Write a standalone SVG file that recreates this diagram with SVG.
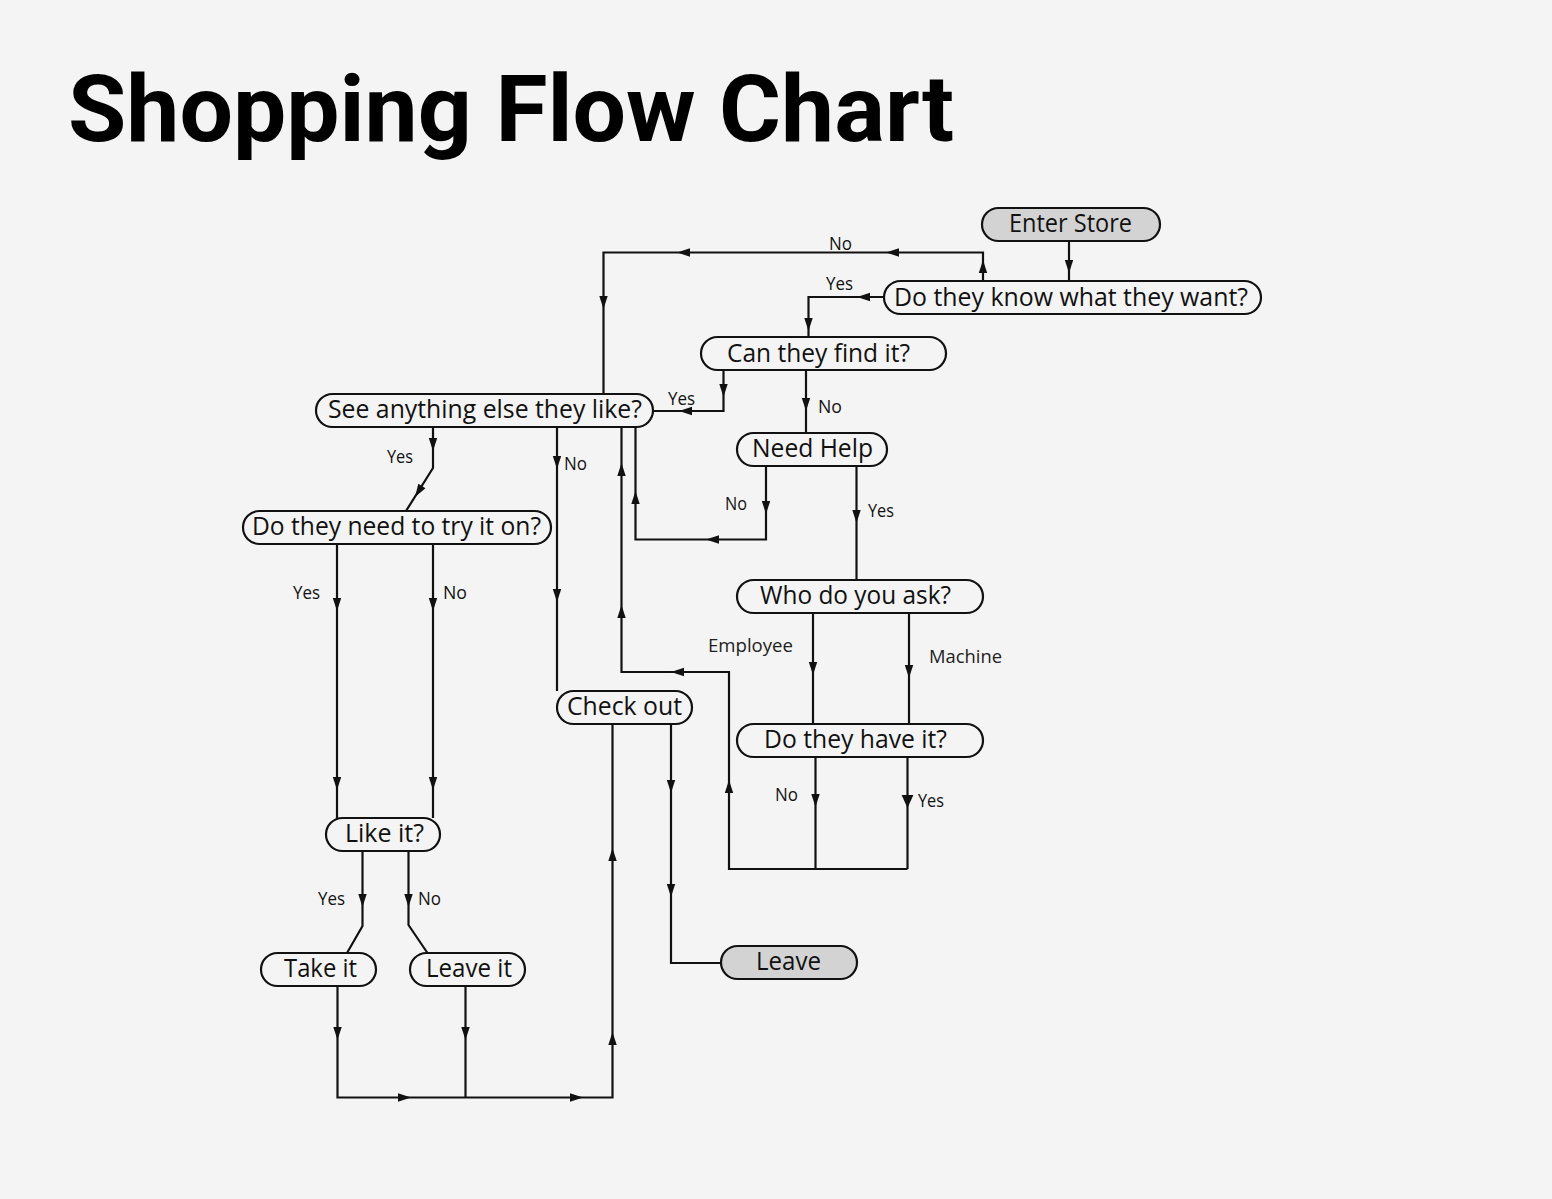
<svg xmlns="http://www.w3.org/2000/svg" xmlns:xlink="http://www.w3.org/1999/xlink" width="1552" height="1199" viewBox="0 0 1552 1199">
<style>
.node rect{fill:#f4f4f4;stroke:#111;stroke-width:2.2}
.node.term rect{fill:#d3d3d3}
.node text{font-family:"Open Sans","Noto Sans",sans-serif;font-size:25px;fill:#111}
.lbl{font-family:"Open Sans","Noto Sans",sans-serif;font-size:19px;fill:#111}
.lbl2{font-family:"Open Sans","Noto Sans",sans-serif;font-size:18px;fill:#222}
#connectors path{fill:none;stroke:#111;stroke-width:2.2}
#connectors use{fill:#111}
.title{font-family:Roboto,"Liberation Sans",sans-serif;font-weight:700;font-size:92px;fill:#000}
</style>
<defs>
<path id="ah" d="M0,0 L-4.2,-13 L4.2,-13 Z"/>
</defs>
<rect x="0" y="0" width="1552" height="1199" fill="#f4f4f4"/>
<text class="title" x="68" y="141" textLength="886" lengthAdjust="spacingAndGlyphs">Shopping Flow Chart</text>

<g id="connectors">
<!-- Enter -> Know -->
<path d="M1069,241 V281"/>
<use xlink:href="#ah" transform="translate(1069,273)"/>
<!-- Know No -> See anything -->
<path d="M983,281 V252.5 H603.5 V394"/>
<use xlink:href="#ah" transform="translate(983,260) rotate(180)"/>
<use xlink:href="#ah" transform="translate(886,252.5) rotate(90)"/>
<use xlink:href="#ah" transform="translate(677,252.5) rotate(90)"/>
<use xlink:href="#ah" transform="translate(603.5,309)"/>
<!-- Know Yes -> Can find -->
<path d="M884,297 H808.5 V337"/>
<use xlink:href="#ah" transform="translate(857,297) rotate(90)"/>
<use xlink:href="#ah" transform="translate(808.5,331)"/>
<!-- Can find Yes -> See anything -->
<path d="M723.5,370 V411 H653"/>
<use xlink:href="#ah" transform="translate(723.5,397)"/>
<use xlink:href="#ah" transform="translate(679,411) rotate(90)"/>
<!-- Can find No -> Need Help -->
<path d="M806,370 V433"/>
<use xlink:href="#ah" transform="translate(806,411)"/>
<!-- See Yes -> Try on -->
<path d="M433,427 V468 L406,511"/>
<use xlink:href="#ah" transform="translate(433,451)"/>
<use xlink:href="#ah" transform="translate(415,497) rotate(32)"/>
<!-- See No -> Check out -->
<path d="M557,427 V691"/>
<use xlink:href="#ah" transform="translate(557,469)"/>
<use xlink:href="#ah" transform="translate(557,602)"/>
<!-- Need Help No -> See anything -->
<path d="M766,466 V539.5 H635.5 V427"/>
<use xlink:href="#ah" transform="translate(766,514)"/>
<use xlink:href="#ah" transform="translate(706,539.5) rotate(90)"/>
<use xlink:href="#ah" transform="translate(635.5,491) rotate(180)"/>
<!-- Need Help Yes -> Who -->
<path d="M856.5,466 V580"/>
<use xlink:href="#ah" transform="translate(856.5,523)"/>
<!-- Who -> Have it -->
<path d="M813,613 V724"/>
<use xlink:href="#ah" transform="translate(813,675)"/>
<path d="M909,613 V724"/>
<use xlink:href="#ah" transform="translate(909,678)"/>
<!-- Have it No / Yes -> loop back -->
<path d="M815.5,757 V869"/>
<use xlink:href="#ah" transform="translate(815.5,807)"/>
<path d="M907.5,757 V869"/>
<use xlink:href="#ah" transform="translate(907.5,808) scale(1.4,1)"/>
<path d="M907.5,869 H729 V672 H621.5 V427"/>
<use xlink:href="#ah" transform="translate(729,780) rotate(180)"/>
<use xlink:href="#ah" transform="translate(671,672) rotate(90)"/>
<use xlink:href="#ah" transform="translate(621.5,605) rotate(180)"/>
<use xlink:href="#ah" transform="translate(621.5,463) rotate(180)"/>
<!-- Try on Yes / No -> Like it -->
<path d="M337,544 V818"/>
<use xlink:href="#ah" transform="translate(337,611)"/>
<use xlink:href="#ah" transform="translate(337,790)"/>
<path d="M433,544 V818"/>
<use xlink:href="#ah" transform="translate(433,611)"/>
<use xlink:href="#ah" transform="translate(433,790)"/>
<!-- Like it Yes / No -->
<path d="M362.5,851 V926 L347,953"/>
<use xlink:href="#ah" transform="translate(362.5,907)"/>
<path d="M408.5,851 V925 L427.5,953"/>
<use xlink:href="#ah" transform="translate(408.5,907)"/>
<!-- Take it / Leave it -> Check out -->
<path d="M337.5,986 V1097.5 H612.5 V724"/>
<use xlink:href="#ah" transform="translate(337.5,1040)"/>
<use xlink:href="#ah" transform="translate(411,1097.5) rotate(-90)"/>
<use xlink:href="#ah" transform="translate(583,1097.5) rotate(-90)"/>
<use xlink:href="#ah" transform="translate(612.5,1032) rotate(180)"/>
<use xlink:href="#ah" transform="translate(612.5,848) rotate(180)"/>
<path d="M465.5,986 V1097.5"/>
<use xlink:href="#ah" transform="translate(465.5,1040)"/>
<!-- Check out -> Leave -->
<path d="M671,724 V963 H721"/>
<use xlink:href="#ah" transform="translate(671,793)"/>
<use xlink:href="#ah" transform="translate(671,897)"/>
</g>

<g id="labels">
<text class="lbl" x="829" y="250" textLength="23" lengthAdjust="spacingAndGlyphs">No</text>
<text class="lbl" x="826" y="290" textLength="27" lengthAdjust="spacingAndGlyphs">Yes</text>
<text class="lbl" x="668" y="405" textLength="27" lengthAdjust="spacingAndGlyphs">Yes</text>
<text class="lbl" x="818" y="413" textLength="24" lengthAdjust="spacingAndGlyphs">No</text>
<text class="lbl" x="387" y="463" textLength="26" lengthAdjust="spacingAndGlyphs">Yes</text>
<text class="lbl" x="564" y="470" textLength="23" lengthAdjust="spacingAndGlyphs">No</text>
<text class="lbl" x="725" y="510" textLength="22" lengthAdjust="spacingAndGlyphs">No</text>
<text class="lbl" x="868" y="517" textLength="26" lengthAdjust="spacingAndGlyphs">Yes</text>
<text class="lbl" x="293" y="599" textLength="27" lengthAdjust="spacingAndGlyphs">Yes</text>
<text class="lbl" x="443" y="599" textLength="24" lengthAdjust="spacingAndGlyphs">No</text>
<text class="lbl2" x="708" y="652" textLength="85" lengthAdjust="spacingAndGlyphs">Employee</text>
<text class="lbl2" x="929" y="663" textLength="73" lengthAdjust="spacingAndGlyphs">Machine</text>
<text class="lbl" x="775" y="801" textLength="23" lengthAdjust="spacingAndGlyphs">No</text>
<text class="lbl" x="918" y="807" textLength="26" lengthAdjust="spacingAndGlyphs">Yes</text>
<text class="lbl" x="318" y="905" textLength="27" lengthAdjust="spacingAndGlyphs">Yes</text>
<text class="lbl" x="418" y="905" textLength="23" lengthAdjust="spacingAndGlyphs">No</text>
</g>

<g id="node-enter" class="node term"><rect x="982" y="208" width="178" height="33" rx="16.5"/><text x="1009" y="232" textLength="123" lengthAdjust="spacingAndGlyphs">Enter Store</text></g>
<g id="node-know" class="node"><rect x="884" y="281" width="377" height="33" rx="16.5"/><text x="894" y="306" textLength="354" lengthAdjust="spacingAndGlyphs">Do they know what they want?</text></g>
<g id="node-find" class="node"><rect x="701" y="337" width="245" height="33" rx="16.5"/><text x="727" y="362" textLength="183" lengthAdjust="spacingAndGlyphs">Can they find it?</text></g>
<g id="node-see" class="node"><rect x="316" y="394" width="337" height="33" rx="16.5"/><text x="328" y="418" textLength="314" lengthAdjust="spacingAndGlyphs">See anything else they like?</text></g>
<g id="node-help" class="node"><rect x="737" y="433" width="150" height="33" rx="16.5"/><text x="752" y="457" textLength="121" lengthAdjust="spacingAndGlyphs">Need Help</text></g>
<g id="node-try" class="node"><rect x="243" y="511" width="308" height="33" rx="16.5"/><text x="252" y="535" textLength="289" lengthAdjust="spacingAndGlyphs">Do they need to try it on?</text></g>
<g id="node-who" class="node"><rect x="737" y="580" width="246" height="33" rx="16.5"/><text x="760" y="604" textLength="191" lengthAdjust="spacingAndGlyphs">Who do you ask?</text></g>
<g id="node-checkout" class="node"><rect x="557" y="691" width="135" height="33" rx="16.5"/><text x="567" y="715" textLength="115" lengthAdjust="spacingAndGlyphs">Check out</text></g>
<g id="node-have" class="node"><rect x="737" y="724" width="246" height="33" rx="16.5"/><text x="764" y="748" textLength="183" lengthAdjust="spacingAndGlyphs">Do they have it?</text></g>
<g id="node-like" class="node"><rect x="326" y="818" width="114" height="33" rx="16.5"/><text x="345" y="842" textLength="79" lengthAdjust="spacingAndGlyphs">Like it?</text></g>
<g id="node-take" class="node"><rect x="261" y="953" width="115" height="33" rx="16.5"/><text x="284" y="977" textLength="73" lengthAdjust="spacingAndGlyphs">Take it</text></g>
<g id="node-leaveit" class="node"><rect x="410" y="953" width="115" height="33" rx="16.5"/><text x="426" y="977" textLength="86" lengthAdjust="spacingAndGlyphs">Leave it</text></g>
<g id="node-leave" class="node term"><rect x="721" y="946" width="136" height="33" rx="16.5"/><text x="756" y="970" textLength="65" lengthAdjust="spacingAndGlyphs">Leave</text></g>
</svg>
